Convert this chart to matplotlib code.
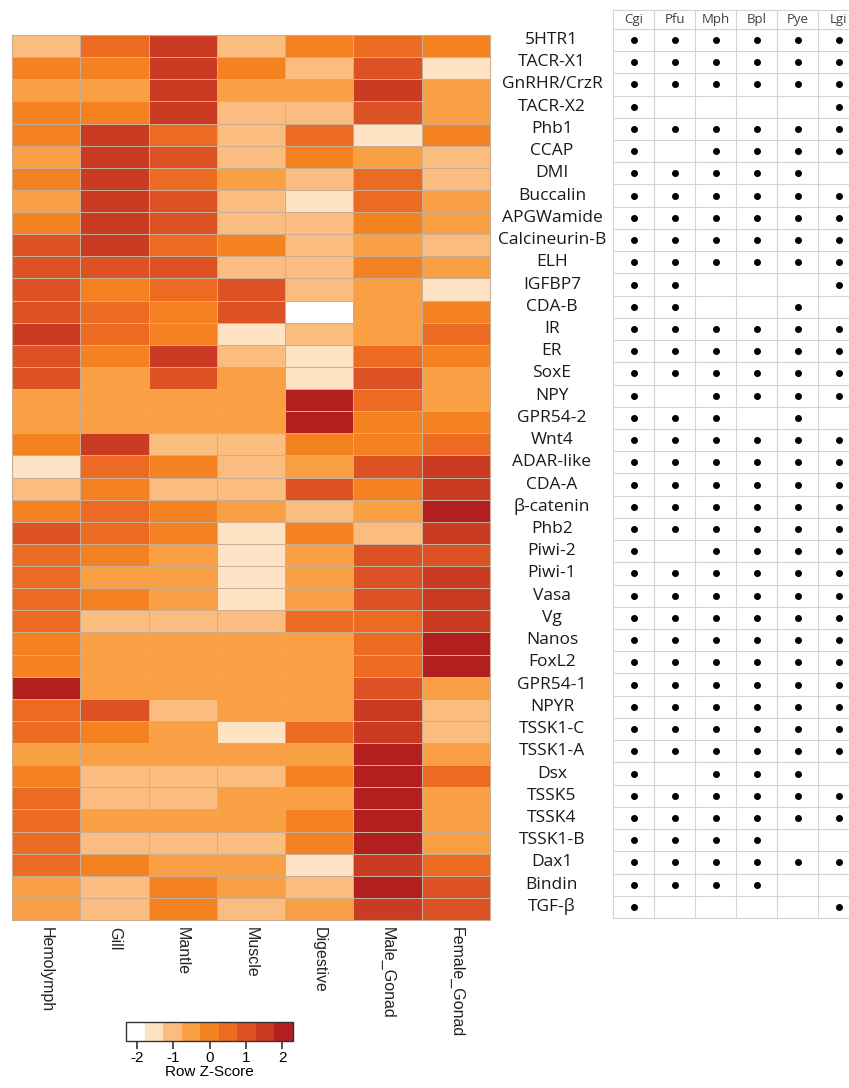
import numpy as np
import matplotlib
matplotlib.use("Agg")
import matplotlib.pyplot as plt
from matplotlib.colors import ListedColormap, BoundaryNorm
from matplotlib.cm import ScalarMappable

plt.rcParams["axes.unicode_minus"] = False

# --- data -------------------------------------------------------------
genes = ["5HTR1", "TACR-X1", "GnRHR/CrzR", "TACR-X2", "Phb1", "CCAP", "DMI",
         "Buccalin", "APGWamide", "Calcineurin-B", "ELH", "IGFBP7", "CDA-B",
         "IR", "ER", "SoxE", "NPY", "GPR54-2", "Wnt4", "ADAR-like", "CDA-A",
         "β-catenin", "Phb2", "Piwi-2", "Piwi-1", "Vasa", "Vg", "Nanos",
         "FoxL2", "GPR54-1", "NPYR", "TSSK1-C", "TSSK1-A", "Dsx", "TSSK5",
         "TSSK4", "TSSK1-B", "Dax1", "Bindin", "TGF-β"]
tissues = ["Hemolymph", "Gill", "Mantle", "Muscle", "Digestive",
           "Male_Gonad", "Female_Gonad"]
species = ["Cgi", "Pfu", "Mph", "Bpl", "Pye", "Lgi"]

# row z-scores per tissue
hemolymph = [-1, 0, -0.5, 0, 0, -0.5, 0, -0.5, 0, 1, 1, 1, 1, 1.5, 1, 1, -0.5, -0.5, 0, -1.5,
             -1, 0, 1, 0.5, 0.5, 0.5, 0.5, 0, 0, 2, 0.5, 0.5, -0.5, 0, 0.5, 0.5, 0.5, 0.5, -0.5, -0.5]
gill = [0.5, 0, -0.5, 0, 1.5, 1.5, 1.5, 1.5, 1.5, 1.5, 1, 0, 0.5, 0.5, 0, -0.5, -0.5, -0.5, 1.5, 0.5,
        0, 0.5, 0.5, 0, -0.5, 0, -1, -0.5, -0.5, -0.5, 1, 0, -0.5, -1, -1, -0.5, -1, 0, -1, -1]
mantle = [1.5, 1.5, 1.5, 1.5, 0.5, 1, 0.5, 1, 1, 0.5, 1, 0.5, 0, 0, 1.5, 1, -0.5, -0.5, -1, 0,
          -1, 0, 0, -0.5, -0.5, -0.5, -1, -0.5, -0.5, -0.5, -1, -0.5, -0.5, -1, -1, -0.5, -1, -0.5, 0, 0]
muscle = [-1, 0, -0.5, -1, -1, -1, -0.5, -1, -1, 0, -1, 1, 1, -1.5, -1, -0.5, -0.5, -0.5, -1, -1,
          -1, -0.5, -1.5, -1.5, -1.5, -1.5, -1, -0.5, -0.5, -0.5, -0.5, -1.5, -0.5, -1, -0.5, -0.5, -1, -0.5, -0.5, -1]
digestive = [0, -1, -0.5, -1, 0.5, 0, -1, -1.5, -1, -1, -1, -1, -2, -1, -1.5, -1.5, 2, 2, 0, -0.5,
             1, -1, 0, -0.5, -0.5, -0.5, 0.5, -0.5, -0.5, -0.5, -0.5, 0.5, -0.5, 0, -0.5, 0, 0, -1.5, -1, -0.5]
male_gonad = [0.5, 1, 1.5, 1, -1.5, -0.5, 0.5, 0.5, 0, -0.5, 0, -0.5, -0.5, -0.5, 0.5, 1, 0.5, 0, 0, 1,
              0, -0.5, -1, 1, 1, 1, 0.5, 0.5, 0.5, 1, 1.5, 1.5, 2, 2, 2, 2, 2, 1.5, 2, 1.5]
female_gonad = [0, -1.5, -0.5, -0.5, 0, -1, -1, -0.5, -0.5, -1, -0.5, -1.5, 0, 0.5, 0, -0.5, -0.5, 0, 0.5, 1.5,
                1.5, 2, 1.5, 1, 1.5, 1.5, 1.5, 2, 2, -0.5, -1, -1, -0.5, 0.5, -0.5, -0.5, -0.5, 0.5, 1, 1]

# presence of each gene in each species (1 = dot)
cgi = [1] * 40
pfu = [1, 1, 1, 0, 1, 0, 1, 1, 1, 1, 1, 1, 1, 1, 1, 1, 0, 1, 1, 1,
       1, 1, 1, 0, 1, 1, 1, 1, 1, 1, 1, 1, 1, 0, 1, 1, 1, 1, 1, 0]
mph = [1, 1, 1, 0, 1, 1, 1, 1, 1, 1, 1, 0, 0, 1, 1, 1, 1, 1, 1, 1,
       1, 1, 1, 1, 1, 1, 1, 1, 1, 1, 1, 1, 1, 1, 1, 1, 1, 1, 1, 0]
bpl = [1, 1, 1, 0, 1, 1, 1, 1, 1, 1, 1, 0, 0, 1, 1, 1, 1, 0, 1, 1,
       1, 1, 1, 1, 1, 1, 1, 1, 1, 1, 1, 1, 1, 1, 1, 1, 1, 1, 1, 0]
pye = [1, 1, 1, 0, 1, 1, 1, 1, 1, 1, 1, 0, 1, 1, 1, 1, 1, 1, 1, 1,
       1, 1, 1, 1, 1, 1, 1, 1, 1, 1, 1, 1, 1, 1, 1, 1, 0, 1, 0, 0]
lgi = [1, 1, 1, 1, 1, 1, 0, 1, 1, 1, 1, 1, 0, 1, 1, 1, 1, 0, 1, 1,
       1, 1, 1, 1, 1, 1, 1, 1, 1, 1, 1, 1, 1, 0, 1, 1, 0, 1, 0, 1]

bin_colors = ["#ffffff", "#fde2c4", "#fbbd7f", "#f9a045", "#f58220",
              "#ec6a22", "#dd5224", "#cb3a22", "#b31e1e"]

# --- figure -----------------------------------------------------------
W, H = 849, 1088
fig = plt.figure(figsize=(W / 100, H / 100), dpi=100)


def px(x0, y0, x1, y1):
    return [x0 / W, 1 - y1 / H, (x1 - x0) / W, (y1 - y0) / H]


Z = np.array([hemolymph, gill, mantle, muscle, digestive, male_gonad, female_gonad]).T
cmap = ListedColormap(bin_colors)
norm = BoundaryNorm(np.linspace(-2.3, 2.3, 10), cmap.N)
grid_col = "#c9ae96"

ax = fig.add_axes(px(12, 35, 490, 920))
ax.pcolormesh(np.arange(len(tissues) + 1), np.arange(len(genes) + 1), Z,
              cmap=cmap, norm=norm, edgecolors=grid_col, linewidth=0.7)
ax.set_xlim(0, len(tissues))
ax.set_ylim(len(genes), 0)
ax.set_xticks([])
ax.set_yticks([])
for s in ax.spines.values():
    s.set_color(grid_col)
    s.set_linewidth(0.8)
for j, t in enumerate(tissues):
    ax.text(j + 0.5, len(genes) + 0.3, t, rotation=270, ha="center", va="top",
            fontsize=11.5, family="Liberation Sans", color="#222222")

# colour key
cax = fig.add_axes(px(126, 1022, 293, 1041))
cb = fig.colorbar(ScalarMappable(norm=norm, cmap=cmap), cax=cax,
                  orientation="horizontal", ticks=[-2, -1, 0, 1, 2])
cb.minorticks_off()
cb.outline.set_edgecolor("#333333")
cb.outline.set_linewidth(1)
cax.tick_params(length=6, width=1.2, color="#333333", labelsize=11, pad=1)
for lab in cax.get_xticklabels():
    lab.set_family("Liberation Sans")
cb.set_label("Row Z-Score", fontsize=11, family="Liberation Sans", labelpad=0)

# presence table
tax = fig.add_axes(px(613, 10, 859, 918))
ns = len(species)
tax.set_xlim(0, ns)
tax.set_ylim(len(genes), -0.85)
tax.axis("off")
line_col = "#d4d4d4"
for y in [-0.85] + list(range(len(genes) + 1)):
    tax.plot([0, ns], [y, y], color=line_col, lw=0.8, clip_on=False)
for x in range(ns + 1):
    tax.plot([x, x], [-0.85, len(genes)], color=line_col, lw=0.8, clip_on=False)
for j, sp in enumerate(species):
    tax.text(j + 0.5, -0.42, sp, ha="center", va="center", fontsize=9.5,
             family="Open Sans", color="#404040")

presence = [cgi, pfu, mph, bpl, pye, lgi]
for j, arr in enumerate(presence):
    ys = [i + 0.5 for i, v in enumerate(arr) if v]
    tax.plot([j + 0.5] * len(ys), ys, "o", color="black", ms=4, clip_on=False)

for i, g in enumerate(genes):
    tax.text(-1.49, i + 0.5, g, ha="center", va="center", fontsize=12.5,
             family=["Open Sans", "DejaVu Sans"], color="#1a1a1a")

fig.savefig("out.png", dpi=100)
